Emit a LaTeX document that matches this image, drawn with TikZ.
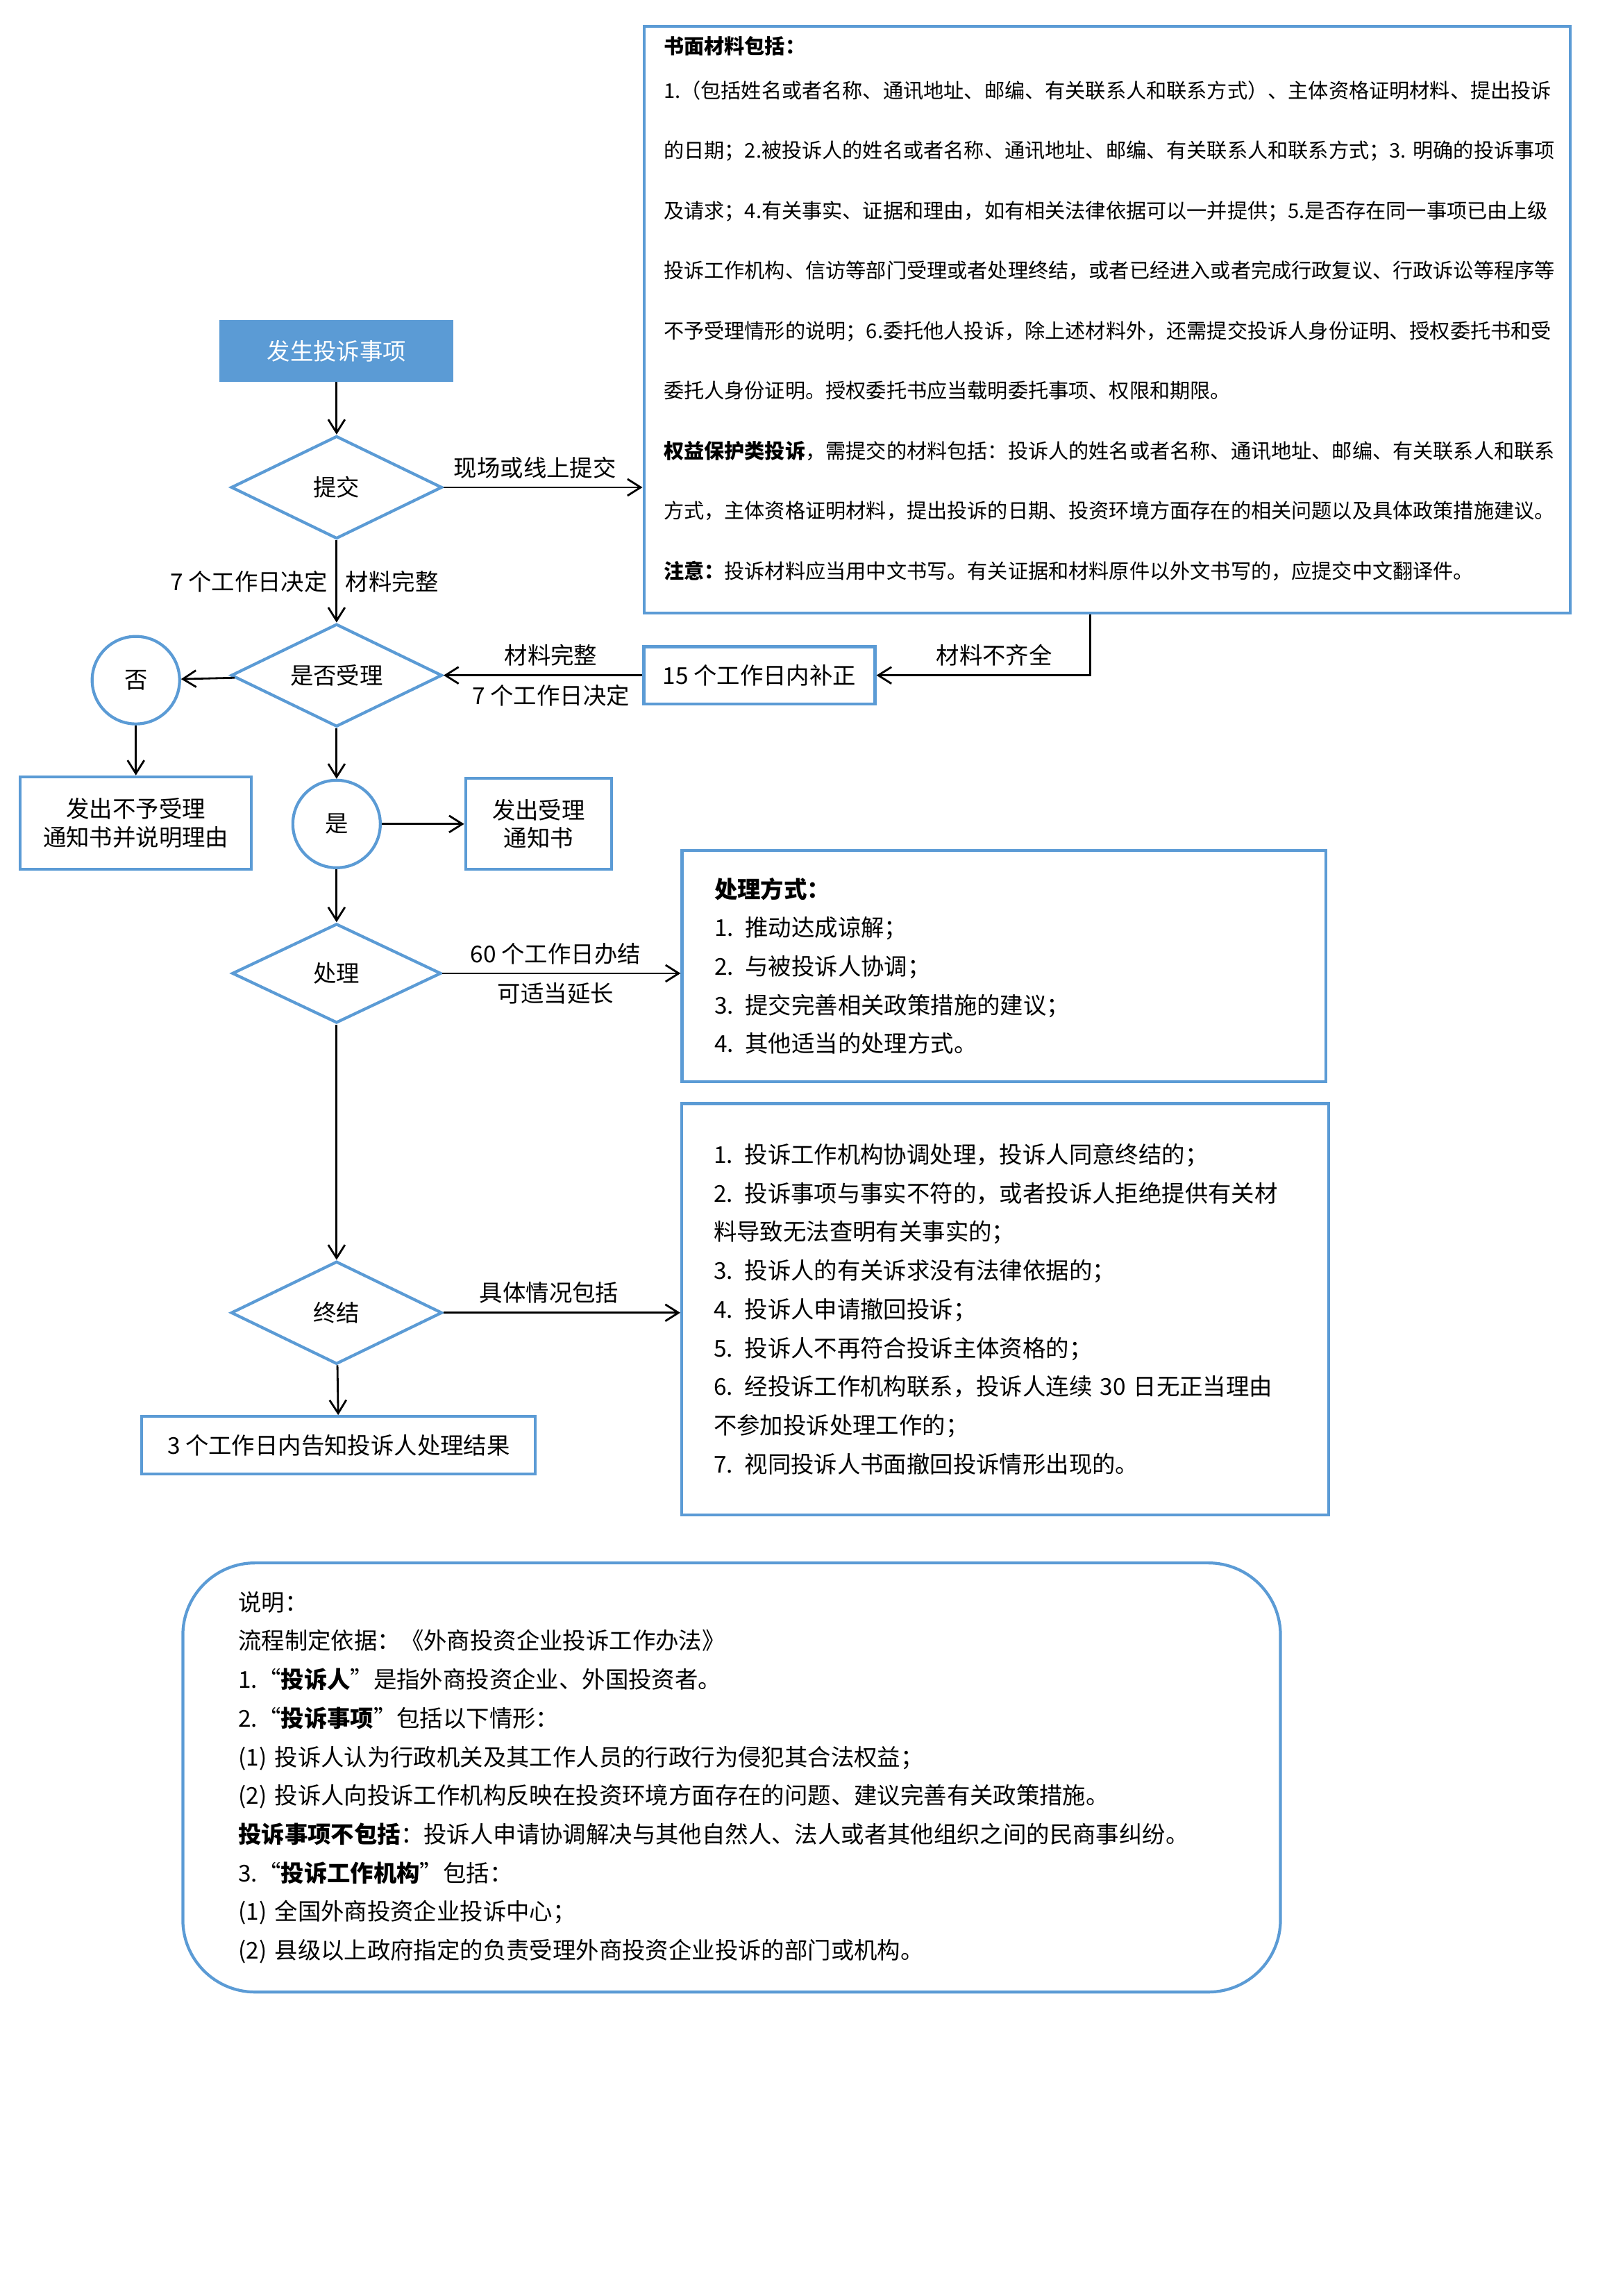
\documentclass[tikz,border=0pt]{standalone}
\usepackage{fontspec}
\setmainfont{Noto Sans CJK SC}
\usepackage{tikz}
\usetikzlibrary{shapes.geometric, arrows.meta, positioning}
\definecolor{boxblue}{RGB}{91, 155, 213}

\begin{document}
\begin{tikzpicture}[
  x=0.099356mm, y=-0.099356mm,
  every node/.style={font=\fontsize{9.5pt}{12pt}\selectfont},
  arr/.style={-{Straight Barb[length=1.9mm, width=2.4mm]}, line width=0.8pt},
  blueline/.style={draw=boxblue, line width=1.2pt},
  flowbox/.style={blueline, align=center, inner sep=0pt},
  decision/.style={blueline, diamond, aspect=2, inner sep=0pt, minimum width=30.4mm, minimum height=14.8mm},
  roundnode/.style={blueline, circle, inner sep=0pt, minimum size=12.6mm},
  listbox/.style={blueline, align=left, inner ysep=0pt, font=\fontsize{9.5pt}{15.85pt}\selectfont}
]
  \useasboundingbox (0, 0) rectangle (2353.1, 3328.4);

  % Written materials
  \node[blueline, align=left, minimum width=133.4mm, minimum height=84.55mm, text width=127.7mm, inner xsep=2.85mm, inner ysep=0pt, font=\fontsize{8.3pt}{24.6pt}\selectfont] (shumian) at (1605, 463.5) {
    \textbf{书面材料包括：}\\[-2.3mm]
    1.（包括姓名或者名称、通讯地址、邮编、有关联系人和联系方式）、主体资格证明材料、提出投诉\\
    的日期；2.被投诉人的姓名或者名称、通讯地址、邮编、有关联系人和联系方式；3.~明确的投诉事项\\
    及请求；4.有关事实、证据和理由，如有相关法律依据可以一并提供；5.是否存在同一事项已由上级\\
    投诉工作机构、信访等部门受理或者处理终结，或者已经进入或者完成行政复议、行政诉讼等程序等\\
    不予受理情形的说明；6.委托他人投诉，除上述材料外，还需提交投诉人身份证明、授权委托书和受\\
    委托人身份证明。授权委托书应当载明委托事项、权限和期限。\\
    \textbf{权益保护类投诉}，需提交的材料包括：投诉人的姓名或者名称、通讯地址、邮编、有关联系人和联系\\
    方式，主体资格证明材料，提出投诉的日期、投资环境方面存在的相关问题以及具体政策措施建议。\\
    \textbf{注意：}投诉材料应当用中文书写。有关证据和材料原件以外文书写的，应提交中文翻译件。\rule[-3.5mm]{0pt}{1pt}
  };

  % Main flow
  \node[flowbox, fill=boxblue, text=white, minimum width=33.3mm, minimum height=8.45mm] (start) at (488, 509) {发生投诉事项};
  \node[decision] (tijiao) at (488, 706.5) {提交};
  \node[decision] (shouli) at (488, 979) {是否受理};
  \node[roundnode] (fou) at (197, 986) {否};
  \node[flowbox, minimum width=33.3mm, minimum height=8.25mm] (buzheng) at (1101, 979) {15 个工作日内补正};
  \node[flowbox, minimum width=33.3mm, minimum height=13.3mm, font=\fontsize{9.5pt}{11.5pt}\selectfont] (buyu) at (197, 1193) {发出不予受理\\通知书并说明理由};
  \node[roundnode] (shi) at (488, 1194.5) {是};
  \node[flowbox, minimum width=21.05mm, minimum height=13.1mm, font=\fontsize{9.5pt}{11.5pt}\selectfont] (tongzhi) at (781, 1194.5) {发出受理\\通知书};
  \node[decision, minimum width=30.1mm, minimum height=14.3mm] (chuli) at (488, 1411) {处理};
  \node[decision] (zhongjie) at (488, 1903) {终结};
  \node[flowbox, minimum width=56.7mm, minimum height=8.25mm] (gaozhi) at (491, 2095) {3 个工作日内告知投诉人处理结果};

  % Handling methods
  \node[listbox, minimum width=92.7mm, minimum height=33.3mm, text width=83.4mm, inner xsep=4.62mm] (fangshi) at (1455.4, 1400.3) {
    \textbf{处理方式：}\\
    1.\enspace 推动达成谅解；\\
    2.\enspace 与被投诉人协调；\\
    3.\enspace 提交完善相关政策措施的建议；\\
    4.\enspace 其他适当的处理方式。
  };

  % Termination cases
  \node[listbox, minimum width=93.2mm, minimum height=59.2mm, text width=84mm, inner xsep=4.6mm] (qingkuang) at (1457.5, 1897.8) {
    1.\enspace 投诉工作机构协调处理，投诉人同意终结的；\\
    2.\enspace 投诉事项与事实不符的，或者投诉人拒绝提供有关材\\
    料导致无法查明有关事实的；\\
    3.\enspace 投诉人的有关诉求没有法律依据的；\\
    4.\enspace 投诉人申请撤回投诉；\\
    5.\enspace 投诉人不再符合投诉主体资格的；\\
    6.\enspace 经投诉工作机构联系，投诉人连续~30~日无正当理由\\
    不参加投诉处理工作的；\\
    7.\enspace 视同投诉人书面撤回投诉情形出现的。
  };

  % Notes
  \node[listbox, rounded corners=10.4mm, minimum width=158.1mm, minimum height=61.8mm, text width=142.1mm, inner xsep=8mm] (shuoming) at (1060.8, 2576.7) {
    说明：\\
    流程制定依据：《外商投资企业投诉工作办法》\\
    1.“\textbf{投诉人}”是指外商投资企业、外国投资者。\\
    2.“\textbf{投诉事项}”包括以下情形：\\
    (1)~投诉人认为行政机关及其工作人员的行政行为侵犯其合法权益；\\
    (2)~投诉人向投诉工作机构反映在投资环境方面存在的问题、建议完善有关政策措施。\\
    \textbf{投诉事项不包括}：投诉人申请协调解决与其他自然人、法人或者其他组织之间的民商事纠纷。\\
    3.“\textbf{投诉工作机构}”包括：\\
    (1)~全国外商投资企业投诉中心；\\
    (2)~县级以上政府指定的负责受理外商投资企业投诉的部门或机构。
  };

  % Connectors
  \draw[arr] (start) -- (tijiao);
  \draw[arr] (tijiao.east) -- node[pos=0.46, above] {现场或线上提交} (tijiao.east -| shumian.west);
  \draw[arr] (tijiao) -- node[left] {7 个工作日决定} node[right] {材料完整} (shouli);
  \draw[arr] (shouli) -- (fou);
  \draw[arr] (buzheng) -- node[pos=0.46, above] {材料完整} node[pos=0.46, below] {7 个工作日决定} (shouli);
  \draw[arr] ([xshift=-2.38mm]shumian.south) |- node[pos=0.725, above] {材料不齐全} (buzheng.east);
  \draw[arr] (fou) -- (buyu);
  \draw[arr] (shouli) -- (shi);
  \draw[arr] (shi) -- (tongzhi);
  \draw[arr] (shi) -- (chuli);
  \draw[arr] (chuli.east) -- node[pos=0.475, above] {60 个工作日办结} node[pos=0.475, below] {可适当延长} (chuli.east -| fangshi.west);
  \draw[arr] (chuli) -- (zhongjie);
  \draw[arr] (zhongjie.east) -- node[pos=0.446, above] {具体情况包括} (zhongjie.east -| qingkuang.west);
  \draw[arr] (zhongjie) -- (gaozhi);
\end{tikzpicture}
\end{document}
